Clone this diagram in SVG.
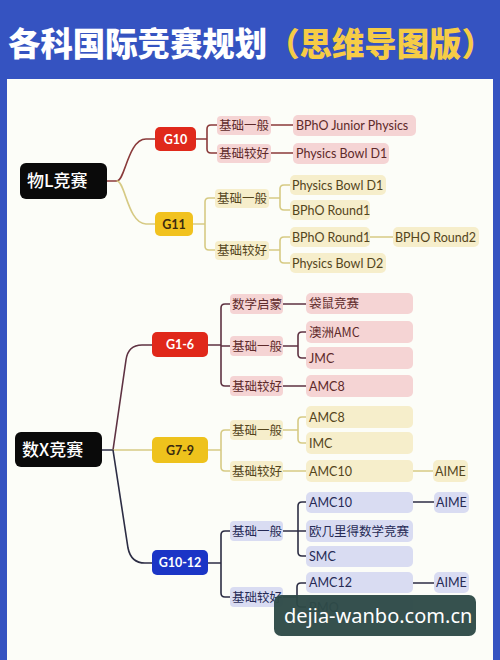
<svg xmlns="http://www.w3.org/2000/svg" width="500" height="660" viewBox="0 0 500 660">
<style>
text{font-family:"Lato","Noto Sans CJK SC",sans-serif;}
.t{font-size:12.5px;}
.cn{font-family:"Noto Sans CJK SC",sans-serif;font-size:12.5px;}
.root{font-family:"Noto Sans CJK SC",sans-serif;font-size:17px;fill:#fff;font-weight:500;}
.g{font-size:12.5px;font-weight:bold;text-anchor:middle;}
.pr{fill:#f5d4d4;}
.py{fill:#f6eecb;}
.pb{fill:#d9dcf2;}
.tr{fill:#5e2a2a;}
.ty{fill:#54451c;}
.tb{fill:#262a55;}
.c{fill:none;stroke-width:1.6;stroke-linecap:round;}
.cr{stroke:#8a3a3a;}
.cy{stroke:#d6ca84;}
.cm{stroke:#5e3242;}
.cb{stroke:#2c2d44;}
</style>
<rect x="0" y="0" width="500" height="660" fill="#3553c1"/>
<rect x="7" y="79" width="486" height="590" fill="#fcfdf8"/>
<g id="title">
<text x="8" y="56" fill="#ffffff" font-size="32.4" font-weight="900" style="font-family:'Noto Sans CJK SC',sans-serif">各科国际竞赛规划<tspan fill="#f6cc46">（思维导图版）</tspan></text>
</g>

<g id="connectors">
<path class="c cr" d="M107,181 H117"/>
<path class="c cr" d="M117,181 C125,181 128,139 146,139 H155"/>
<path class="c cy" d="M117,181 C125,181 128,224 146,224 H155"/>
<path class="c cr" d="M196,139 H207 M217,125 H211 Q207,125 207,129 V149 Q207,153 211,153 H217"/>
<path class="c cr" d="M271,125 H293 M271,153 H293"/>
<path class="c cy" d="M193,224 H205 M215,198 H209 Q205,198 205,202 V246 Q205,250 209,250 H215"/>
<path class="c cy" d="M269,198 H280 M290,185 H284 Q280,185 280,189 V206 Q280,210 284,210 H290"/>
<path class="c cy" d="M269,250 H280 M290,237 H284 Q280,237 280,241 V259 Q280,263 284,263 H290"/>
<path class="c cy" d="M370,237 H393"/>

<path class="c cb" d="M102,450 H113"/>
<path class="c cm" d="M113,450 L126,360 Q128,345 142,345 H152"/>
<path class="c cy" d="M113,450 H152"/>
<path class="c cb" d="M113,450 L128,548 Q131,563 145,563 H152"/>
<path class="c cm" d="M208,345 H221 M230,304 H225 Q221,304 221,308 V382 Q221,386 225,386 H230 M221,346 H230"/>
<path class="c cm" d="M283,304 H306 M283,386 H306"/>
<path class="c cm" d="M283,346 H298 M306,332 H302 Q298,332 298,336 V354 Q298,358 302,358 H306"/>
<path class="c cy" d="M208,450 H221 M230,430 H225 Q221,430 221,434 V467 Q221,471 225,471 H230"/>
<path class="c cy" d="M283,430 H298 M306,417 H302 Q298,417 298,421 V439 Q298,443 302,443 H306"/>
<path class="c cy" d="M283,471 H306 M413,471 H433"/>
<path class="c cb" d="M208,563 H221 M230,531 H225 Q221,531 221,535 V593 Q221,597 225,597 H230"/>
<path class="c cb" d="M283,531 H306 M306,502 H302 Q298,502 298,506 V552 Q298,556 302,556 H306"/>
<path class="c cb" d="M413,502 H434 M413,583 H434"/>
<path class="c cb" d="M283,597 H297 M306,583 H301 Q297,583 297,587 V603 Q297,607 301,607 H306"/>
</g>

<g id="root-physics"><rect x="20" y="163" width="87" height="36" rx="6" fill="#0a0a0a"/><text class="root" x="27" y="187">物L竞赛</text></g>
<g id="g10"><rect x="155" y="127" width="41" height="24" rx="5" fill="#e0291b"/><text class="g" x="175.5" y="143.5" fill="#fff">G10</text></g>
<g id="g11"><rect x="155" y="212" width="38" height="24" rx="5" fill="#f1c21f"/><text class="g" x="174" y="228.5" fill="#3a2a10">G11</text></g>

<g id="p-g10-basic"><rect class="pr" x="217" y="116" width="54" height="19" rx="4"/><text class="cn tr" x="219" y="130">基础一般</text></g>
<g id="p-g10-good"><rect class="pr" x="217" y="144" width="54" height="19" rx="4"/><text class="cn tr" x="219" y="158">基础较好</text></g>
<g id="p-bpho-junior"><rect class="pr" x="293" y="115" width="123" height="21" rx="5"/><text class="t tr" x="296" y="130">BPhO Junior Physics</text></g>
<g id="p-bowl-d1-a"><rect class="pr" x="293" y="143" width="96" height="21" rx="5"/><text class="t tr" x="296" y="158">Physics Bowl D1</text></g>

<g id="p-g11-basic"><rect class="py" x="215" y="189" width="54" height="19" rx="4"/><text class="cn ty" x="217" y="203">基础一般</text></g>
<g id="p-g11-good"><rect class="py" x="215" y="241" width="54" height="19" rx="4"/><text class="cn ty" x="217" y="255">基础较好</text></g>
<g id="p-bowl-d1-b"><rect class="py" x="290" y="175" width="96" height="20" rx="5"/><text class="t ty" x="292" y="189.5">Physics Bowl D1</text></g>
<g id="p-round1-a"><rect class="py" x="290" y="200" width="80" height="20" rx="5"/><text class="t ty" x="292" y="214.5">BPhO Round1</text></g>
<g id="p-round1-b"><rect class="py" x="290" y="227" width="80" height="20" rx="5"/><text class="t ty" x="292" y="241.5">BPhO Round1</text></g>
<g id="p-bowl-d2"><rect class="py" x="290" y="253" width="96" height="20" rx="5"/><text class="t ty" x="292" y="267.5">Physics Bowl D2</text></g>
<g id="p-round2"><rect class="py" x="393" y="227" width="86" height="20" rx="5"/><text class="t ty" x="395" y="241.5">BPHO Round2</text></g>

<g id="root-math"><rect x="15" y="432" width="87" height="35" rx="6" fill="#0a0a0a"/><text class="root" x="22" y="456">数X竞赛</text></g>
<g id="g1-6"><rect x="152" y="332" width="56" height="25" rx="5" fill="#e0281a"/><text class="g" x="180" y="349" fill="#fff">G1-6</text></g>
<g id="g7-9"><rect x="152" y="437" width="56" height="26" rx="5" fill="#eec21c"/><text class="g" x="180" y="455" fill="#3a2a10">G7-9</text></g>
<g id="g10-12"><rect x="152" y="550" width="56" height="25" rx="5" fill="#1b35c6"/><text class="g" x="180" y="567" fill="#fff">G10-12</text></g>

<g id="m1-enlight"><rect class="pr" x="230" y="294" width="53" height="20" rx="4"/><text class="cn tr" x="232" y="308.5">数学启蒙</text></g>
<g id="m1-basic"><rect class="pr" x="230" y="336" width="53" height="20" rx="4"/><text class="cn tr" x="232" y="350.5">基础一般</text></g>
<g id="m1-good"><rect class="pr" x="230" y="376" width="53" height="20" rx="4"/><text class="cn tr" x="232" y="390.5">基础较好</text></g>
<g id="m1-kangaroo"><rect class="pr" x="306" y="293" width="107" height="21" rx="5"/><text class="cn tr" x="309" y="308">袋鼠竞赛</text></g>
<g id="m1-amc-au"><rect class="pr" x="306" y="321" width="107" height="22" rx="5"/><text class="cn tr" x="309" y="336.5">澳洲AMC</text></g>
<g id="m1-jmc"><rect class="pr" x="306" y="347" width="107" height="22" rx="5"/><text class="t tr" x="309" y="362.5">JMC</text></g>
<g id="m1-amc8"><rect class="pr" x="306" y="375" width="107" height="22" rx="5"/><text class="t tr" x="309" y="390.5">AMC8</text></g>

<g id="m2-basic"><rect class="py" x="230" y="420" width="53" height="20" rx="4"/><text class="cn ty" x="232" y="434.5">基础一般</text></g>
<g id="m2-good"><rect class="py" x="230" y="461" width="53" height="20" rx="4"/><text class="cn ty" x="232" y="475.5">基础较好</text></g>
<g id="m2-amc8"><rect class="py" x="306" y="406" width="107" height="22" rx="5"/><text class="t ty" x="309" y="421.5">AMC8</text></g>
<g id="m2-imc"><rect class="py" x="306" y="432" width="107" height="22" rx="5"/><text class="t ty" x="309" y="447.5">IMC</text></g>
<g id="m2-amc10"><rect class="py" x="306" y="460" width="107" height="22" rx="5"/><text class="t ty" x="309" y="475.5">AMC10</text></g>
<g id="m2-aime"><rect class="py" x="433" y="460" width="35" height="22" rx="5"/><text class="t ty" x="435" y="475.5">AIME</text></g>

<g id="m3-basic"><rect class="pb" x="230" y="521" width="53" height="20" rx="4"/><text class="cn tb" x="232" y="535.5">基础一般</text></g>
<g id="m3-good"><rect class="pb" x="230" y="587" width="53" height="20" rx="4"/><text class="cn tb" x="232" y="601.5">基础较好</text></g>
<g id="m3-amc10"><rect class="pb" x="306" y="492" width="107" height="21" rx="5"/><text class="t tb" x="309" y="507">AMC10</text></g>
<g id="m3-euclid"><rect class="pb" x="306" y="520" width="107" height="22" rx="5"/><text class="cn tb" x="309" y="535.5">欧几里得数学竞赛</text></g>
<g id="m3-smc"><rect class="pb" x="306" y="546" width="107" height="21" rx="5"/><text class="t tb" x="309" y="561">SMC</text></g>
<g id="m3-amc12"><rect class="pb" x="306" y="572" width="107" height="21" rx="5"/><text class="t tb" x="309" y="587">AMC12</text></g>
<g id="m3-bmo"><rect class="pb" x="306" y="597" width="107" height="21" rx="5"/><text class="t tb" x="309" y="612">BMO</text></g>
<g id="m3-aime-a"><rect class="pb" x="434" y="492" width="35" height="21" rx="5"/><text class="t tb" x="436" y="507">AIME</text></g>
<g id="m3-aime-b"><rect class="pb" x="434" y="572" width="35" height="21" rx="5"/><text class="t tb" x="436" y="587">AIME</text></g>

<g id="watermark"><rect x="274" y="595" width="202" height="41" rx="7" fill="#2e4a47" opacity="0.96"/><text x="284" y="623" font-size="20" fill="#ffffff" style="font-family:'Noto Sans',sans-serif">dejia-wanbo.com.cn</text></g>
</svg>
